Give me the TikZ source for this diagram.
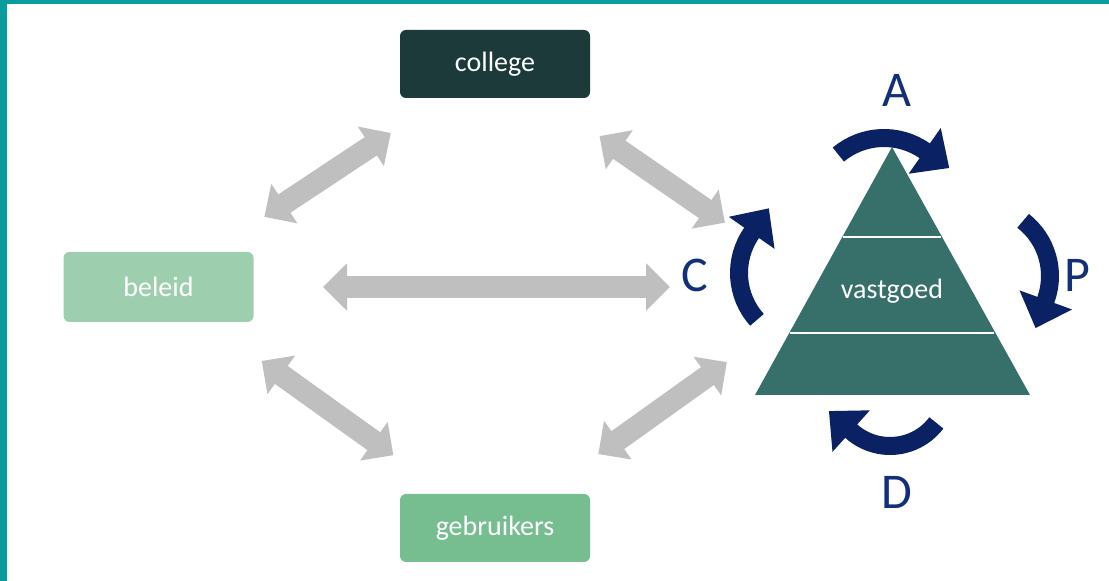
\documentclass[tikz,border=0pt]{standalone}
\usepackage{fontspec}
\setmainfont{Carlito}
\usetikzlibrary{arrows.meta}
\definecolor{rand}{HTML}{0A9C9C}
\definecolor{collegekleur}{HTML}{1C3A3A}
\definecolor{beleidkleur}{HTML}{9DCFAF}
\definecolor{gebruikerskleur}{HTML}{76BD90}
\definecolor{piramide}{HTML}{37706B}
\definecolor{grijspijl}{HTML}{BFBFBF}
\definecolor{donkerblauw}{HTML}{0A2263}
\definecolor{letterblauw}{HTML}{12307A}
\begin{document}
\begin{tikzpicture}[x=1pt,y=1pt,
        blok/.style={rounded corners=6pt, minimum width=190pt, minimum height=68pt, inner sep=0pt, text=white, font=\fontsize{28}{32}\selectfont},
        grijs/.style={draw=grijspijl, line width=22pt, {Triangle[length=24pt,width=46pt]}-{Triangle[length=24pt,width=46pt]}},
        rond/.style={draw=donkerblauw, line width=18pt, -{Triangle[length=30pt,width=54pt]}},
        letter/.style={text=letterblauw, font=\fontsize{50}{60}\selectfont}]
            \useasboundingbox (0,0) rectangle (1109,581);
            \fill[rand] (0,0) rectangle (7,581);
            \fill[rand] (0,577) rectangle (1109,581);

            % blokken
            \node[blok, fill=collegekleur] (college) at (495,517) {college};
            \node[blok, fill=beleidkleur, minimum height=70pt] (beleid) at (158.5,294) {beleid};
            \node[blok, fill=gebruikerskleur] (gebruikers) at (495,53) {gebruikers};

            % piramide
            \fill[piramide] (755,186) -- (892,434) -- (1030,186) -- cycle;
            \draw[white, line width=1.5pt] (842.6,344) -- (941.4,344);
            \draw[white, line width=1.5pt] (789.6,248) -- (994.4,248);
            \node[text=white, font=\fontsize{28}{32}\selectfont] (vastgoed) at (892,290) {vastgoed};

            % grijze pijlen
            \draw[grijs, shorten <=127pt, shorten >=125pt] (beleid.center) -- (college.center);
            \draw[grijs, shorten <=127pt, shorten >=125pt] (beleid.center) -- (gebruikers.center);
            \draw[grijs, shorten <=164.5pt, shorten >=222pt] (beleid.center) -- (beleid -| vastgoed);
            \draw[grijs, shorten <=127pt, shorten >=203pt] (college.center) -- ([yshift=-47pt]vastgoed.center);
            \draw[grijs, shorten <=127pt, shorten >=203pt] (gebruikers.center) -- ([yshift=47pt]vastgoed.center);

            % cyclus
            \draw[rond] (884,372) ++(130:71) arc[start angle=130, end angle=55, radius=71] -- ++(-35:30);
            \draw[rond] (980,305) ++(52:70) arc[start angle=52, end angle=-20, radius=70] -- ++(-110:30);
            \draw[rond] (890,193) ++(-37:58) arc[start angle=-37, end angle=-132, radius=58] -- ++(138:30);
            \draw[rond] (809,308) ++(-138:70) arc[start angle=-138, end angle=-215, radius=70] -- ++(55:30);

            \node[letter] (a) at (897,491) {A};
            \node[letter] (p) at (1077,306) {P};
            \node[letter] (d) at (897,89) {D};
            \node[letter] (c) at (695,306) {C};
        \end{tikzpicture}
\end{document}
